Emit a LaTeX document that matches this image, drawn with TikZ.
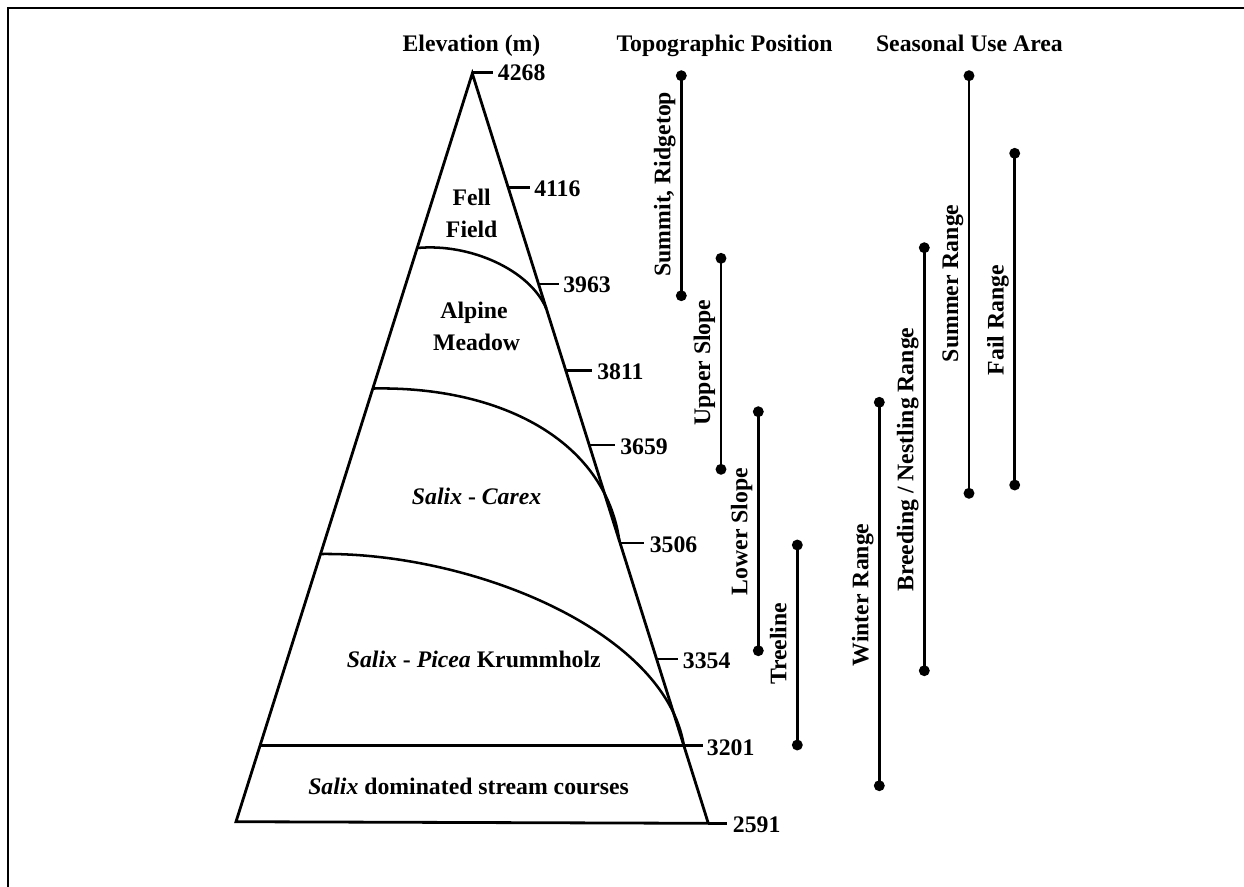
\documentclass[tikz,border=0pt]{standalone}
\usepackage{fontspec}
\setmainfont{Liberation Serif}
\newcommand\lbfont{\fontsize{17.8}{24}\selectfont\bfseries}
\tikzset{
  ln/.style={line width=2.1pt},
  cv/.style={line width=1.9pt},
  frm/.style={line width=1.9pt},
  lbl/.style={font=\lbfont, inner sep=0pt},
  num/.style={lbl, anchor=base west},
  ttl/.style={lbl, anchor=base},
  vlab/.style={lbl, rotate=90, anchor=base},
  dotr/.style={fill=black},
}
\begin{document}
\begin{tikzpicture}[x=0.75pt,y=-0.75pt]
\useasboundingbox (0,0) rectangle (1244,886);
% frame
\draw[frm] (8,890) -- (8,8) -- (1250,8);

% titles
\node[ttl] (tElev) at (471.5,51) {Elevation (m)};
\node[ttl] (tTopo) at (724.6,51) {Topographic Position};
\node[ttl] (tSeas) at (969.4,51) {Seasonal Use Area};

% triangle
\coordinate (apex) at (472.3,73.5);
\coordinate (bl) at (236,821.7);
\coordinate (br) at (708.3,823.3);
\draw[ln, line join=miter] (apex) -- (br) -- (bl) -- cycle;

% zone boundaries
\draw[cv] (417.3,248) .. controls (470,243) and (530,270) .. (546.2,308.5);
\draw[cv] (372.9,388.5) .. controls (500,386) and (605,440) .. (619.4,541);
\draw[cv] (320.6,554) .. controls (470,552) and (665,630) .. (683.9,745.7);
\coordinate (h1) at (260,745.7);
\coordinate (h2) at (703.3,745.7);
\draw[ln] (h1) -- (h2);

% ticks
\coordinate (k0a) at (472.3,72.5);  \coordinate (k0b) at (492.7,72.5);
\coordinate (k1a) at (508.1,187.7); \coordinate (k1b) at (530,187.7);
\coordinate (k2a) at (538.5,284);   \coordinate (k2b) at (559,284);
\coordinate (k3a) at (565.8,370.8); \coordinate (k3b) at (591.8,370.8);
\coordinate (k4a) at (589.2,445);   \coordinate (k4b) at (614.9,445);
\coordinate (k5a) at (620,543);     \coordinate (k5b) at (644,543);
\coordinate (k6a) at (656.6,659);   \coordinate (k6b) at (678.3,659);
\coordinate (k8b) at (727.3,823.3);
\foreach \k in {0,1,2,3,4,5,6} {\draw[ln] (k\k a) -- (k\k b);}
\draw[ln] (br) -- (k8b);

% elevation numbers
\node[num] (e0) at (497.7,80.5) {4268};
\node[num] (e1) at (534,196.7) {4116};
\node[num] (e2) at (563,292.7) {3963};
\node[num] (e3) at (597,379.6) {3811};
\node[num] (e4) at (620,454.5) {3659};
\node[num] (e5) at (649.6,552) {3506};
\node[num] (e6) at (682.7,668.3) {3354};
\node[num] (e7) at (706.7,755.5) {3201};
\node[num] (e8) at (732.7,832.7) {2591};

% zone labels
\node[ttl] (z1a) at (471.7,205) {Fell};
\node[ttl] (z1b) at (471.7,237.3) {Field};
\node[ttl] (z2a) at (474,318) {Alpine};
\node[ttl] (z2b) at (476.6,350) {Meadow};
\node[ttl] (z3) at (476.6,504) {\textit{Salix} - \textit{Carex}};
\node[ttl] (z4) at (473.8,667) {\textit{Salix} - \textit{Picea} Krummholz};
\node[ttl] (z5) at (468.6,794) {\textit{Salix} dominated stream courses};

% range bars
\foreach \n/\x/\ya/\yb in {sum/681.3/75.7/295.7, up/721/258.3/469.3, low/758.3/411.7/650.7, tree/797.3/545/745, win/879.3/402.3/785.7, bre/924.3/247.7/670.7, smr/969/75.7/493.3, fal/1014.7/153.3/485} {
  \coordinate (\n-t) at (\x,\ya);
  \coordinate (\n-b) at (\x,\yb);
  \draw[ln] (\n-t) -- (\n-b);
  \fill[dotr] (\n-t) circle [radius=4.1pt];
  \fill[dotr] (\n-b) circle [radius=4.1pt];
}

% range labels
\node[vlab] (lsum) at (670.3,184.2) {Summit, Ridgetop};
\node[vlab] (lup) at (710,362.5) {Upper Slope};
\node[vlab] (llow) at (747.3,531.7) {Lower Slope};
\node[vlab] (ltree) at (786.3,643.8) {Treeline};
\node[vlab] (lwin) at (868.3,594.8) {Winter Range};
\node[vlab] (lbre) at (913.3,459.5) {Breeding / Nestling Range};
\node[vlab] (lsmr) at (958,283.3) {Summer Range};
\node[vlab] (lfal) at (1003.7,320) {Fail Range};
\end{tikzpicture}
\end{document}
